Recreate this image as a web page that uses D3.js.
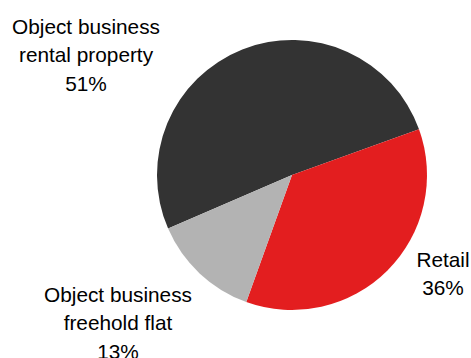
<!DOCTYPE html>
<html>
<head>
<meta charset="utf-8">
<script src="https://cdn.jsdelivr.net/npm/d3@7"></script>
<style>
  body { margin: 0; background: #fff; }
  text { font-family: "Liberation Sans", Arial, sans-serif; fill: #000; }
</style>
</head>
<body>
<div id="chart"></div>
<script>
// Data
const categories = ["Object business rental property", "Retail", "Object business freehold flat"];
const shares = [51, 36, 13];
const labelLines = [
  ["Object business", "rental property", "51%"],
  ["Retail", "36%"],
  ["Object business", "freehold flat", "13%"]
];

// Layout
const [w, h] = [471, 358];
const cx = 292, cy = 175, radius = 135;
const colors = ["#333333", "#e31e1f", "#b3b3b3"];
const labelAnchors = [[86, 34], [443, 267], [118, 302]];
const lineGap = 28.3;
const fontSize = 20.8;

const svg = d3.select("#chart")
  .append("svg")
  .attr("width", w)
  .attr("height", h);

const pie = d3.pie()
  .sort(null)
  .startAngle(-113.4 * Math.PI / 180)
  .endAngle(246.6 * Math.PI / 180)
  .value((d) => d);

const arc = d3.arc()
  .innerRadius(0)
  .outerRadius(radius);

svg.append("g")
  .attr("transform", `translate(${cx},${cy})`)
  .selectAll("path")
  .data(pie(shares))
  .enter()
  .append("path")
  .attr("d", arc)
  .attr("fill", (d, i) => colors[i]);

// Labels
labelLines.forEach((lines, i) => {
  const t = svg.append("text")
    .attr("text-anchor", "middle")
    .attr("font-size", fontSize)
    .attr("data-category", categories[i]);
  lines.forEach((line, j) => {
    t.append("tspan")
      .attr("x", labelAnchors[i][0])
      .attr("y", labelAnchors[i][1] + j * lineGap)
      .text(line);
  });
});
</script>
</body>
</html>
